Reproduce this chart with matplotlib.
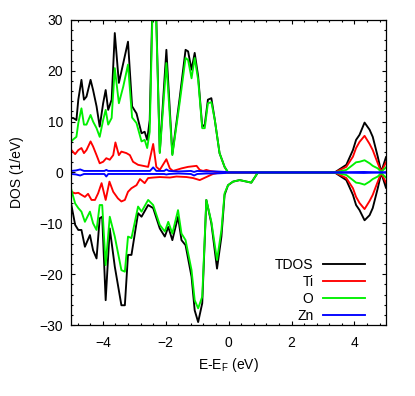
import matplotlib
matplotlib.use("Agg")
import matplotlib.pyplot as plt
from matplotlib.ticker import MultipleLocator

# --- total DOS / O, spin up ---
e_up = [-5.0, -4.94, -4.84, -4.78, -4.68, -4.60, -4.52, -4.39, -4.31, -4.20,
        -4.10, -3.99, -3.91, -3.83, -3.72, -3.62, -3.49, -3.35, -3.20, -3.07,
        -2.93, -2.77, -2.67, -2.59, -2.51, -2.37, -2.19, -1.98, -1.79, -1.56,
        -1.37, -1.29, -1.18, -1.08, -0.97, -0.84, -0.76, -0.66, -0.55, -0.44,
        -0.29, -0.13, -0.02, 3.2, 3.37, 3.74, 3.95, 4.05, 4.16, 4.32,
        4.48, 4.58, 4.74, 4.85, 5.0]
tdos_up = [10.7, 10.7, 10.3, 14.3, 18.2, 14.3, 14.9, 18.2, 16.2, 13.0,
           9.0, 13.6, 16.2, 12.3, 14.3, 27.4, 17.6, 21.5, 25.7, 13.0,
           11.6, 7.7, 8.0, 6.4, 10.3, 47.0, 4.0, 24.1, 3.6, 14.5,
           24.1, 23.8, 20.2, 23.5, 18.9, 9.0, 9.4, 14.3, 14.6, 10.3,
           3.8, 1.1, 0.0, 0.0, 0.0, 1.5, 4.4, 6.4, 7.4, 9.8,
           8.4, 7.0, 3.1, 0.1, 3.0]
o_up = [6.1, 6.5, 7.0, 9.7, 12.6, 9.4, 9.4, 11.3, 10.0, 8.7,
        7.0, 10.3, 12.3, 9.4, 10.7, 20.5, 13.6, 16.9, 21.2, 10.8,
        9.7, 6.1, 6.4, 4.8, 8.0, 45.0, 3.8, 21.5, 3.4, 13.6,
        22.5, 22.1, 18.5, 22.5, 18.2, 8.7, 8.7, 13.6, 13.8, 10.3,
        3.8, 1.1, 0.0, 0.0, 0.0, 0.5, 1.5, 2.0, 2.1, 2.4,
        1.8, 1.3, 0.8, 0.1, 1.0]

# --- total DOS / O, spin down ---
e_dn = [-5.0, -4.88, -4.78, -4.68, -4.57, -4.41, -4.31, -4.20, -4.10, -4.02,
        -3.91, -3.78, -3.62, -3.41, -3.30, -3.20, -3.09, -2.88, -2.77, -2.56,
        -2.40, -2.19, -2.03, -1.92, -1.79, -1.61, -1.50, -1.37, -1.18, -1.08,
        -0.97, -0.84, -0.71, -0.55, -0.37, -0.23, -0.13, -0.02, 0.14, 0.35,
        0.72, 0.93, 3.2, 3.37, 3.74, 3.95, 4.05, 4.16, 4.32, 4.48,
        4.58, 4.74, 4.85, 5.0]
tdos_dn = [-6.4, -10.3, -11.3, -11.3, -14.6, -12.3, -15.3, -16.9, -9.0, -8.7,
           -25.1, -11.0, -18.5, -26.1, -26.1, -16.2, -16.2, -8.0, -8.7, -6.4,
           -7.0, -11.0, -12.6, -10.7, -13.3, -8.7, -13.3, -14.3, -20.5, -27.1,
           -29.4, -25.7, -5.4, -10.0, -18.9, -12.6, -4.4, -2.5, -1.8, -1.5,
           -2.0, 0.0, 0.0, 0.0, -1.5, -4.4, -6.4, -7.4, -9.4, -8.4,
           -7.0, -3.1, -0.1, -3.0]
o_dn = [-3.4, -6.1, -7.0, -7.7, -9.7, -7.7, -10.0, -11.3, -6.4, -6.4,
        -18.2, -8.7, -12.6, -19.2, -19.5, -12.6, -12.9, -6.7, -7.7, -5.4,
        -6.4, -10.3, -11.6, -9.7, -12.0, -7.4, -12.0, -13.3, -19.2, -25.1,
        -26.7, -24.4, -5.4, -9.7, -17.2, -11.3, -4.1, -2.5, -1.8, -1.5,
        -2.0, 0.0, 0.0, 0.0, -0.5, -1.5, -2.0, -2.1, -2.4, -1.8,
        -1.3, -0.8, -0.1, -1.0]

# --- Ti ---
e_ti_up = [-5.0, -4.88, -4.78, -4.68, -4.60, -4.52, -4.39, -4.31, -4.20, -4.10,
           -3.99, -3.89, -3.78, -3.67, -3.60, -3.49, -3.41, -3.25, -3.14, -3.04,
           -2.88, -2.72, -2.56, -2.40, -2.30, -2.19, -1.98, -1.87, -1.77, -1.66,
           -1.50, -1.29, -1.02, -0.92, -0.81, -0.71, -0.60, -0.39, -0.2, 3.2,
           3.37, 3.74, 3.95, 4.05, 4.16, 4.32, 4.48, 4.58, 4.74, 4.85, 5.0]
ti_up = [4.4, 3.6, 4.4, 4.8, 3.8, 4.4, 6.1, 5.1, 3.4, 1.8,
         2.1, 2.8, 2.5, 3.4, 5.9, 3.4, 4.1, 3.8, 3.4, 2.1,
         1.5, 1.3, 1.1, 5.6, 1.1, 0.5, 2.6, 0.8, 0.3, 0.5,
         0.8, 1.1, 1.3, 0.5, 0.3, 0.5, 0.3, 0.1, 0.0, 0.0,
         0.0, 1.1, 3.1, 4.8, 6.0, 7.2, 5.6, 4.4, 1.8, 0.1, 2.0]
e_ti_dn = [-5.0, -4.88, -4.78, -4.68, -4.57, -4.47, -4.36, -4.25, -4.15, -4.04,
           -3.91, -3.79, -3.67, -3.52, -3.41, -3.30, -3.20, -3.09, -2.93, -2.82,
           -2.67, -2.56, -2.40, -2.19, -1.87, -1.66, -1.34, -1.13, -0.92, -0.71,
           -0.50, -0.29, 3.2, 3.37, 3.74, 3.95, 4.05, 4.16, 4.32, 4.48,
           4.58, 4.74, 4.85, 5.0]
ti_dn = [-3.8, -4.1, -4.0, -4.4, -4.8, -4.2, -5.4, -5.4, -4.1, -2.1,
         -5.4, -1.8, -3.8, -5.1, -5.7, -5.4, -3.8, -3.1, -2.5, -1.3,
         -2.1, -1.1, -1.0, -0.9, -1.0, -0.8, -0.9, -1.1, -1.5, -0.9,
         -0.3, 0.0, 0.0, 0.0, -1.1, -3.1, -4.8, -6.0, -7.2, -5.6,
         -4.4, -1.8, -0.1, -2.0]

# --- Zn ---
e_zn = [-5.0, -4.85, -4.72, -4.6, -4.0, -3.95, -3.89, -3.83, -3.0, -2.5,
        -2.40, -2.3, -2.05, -1.98, -1.9, -1.6, -1.2, -1.1, -1.0, -0.7,
        -0.4, -0.1, 0.0, 3.3, 3.7, 4.3, 4.85, 5.0]
zn_up = [0.3, 0.4, 0.6, 0.3, 0.3, 0.3, 0.5, 0.3, 0.3, 0.3,
         1.0, 0.3, 0.3, 0.6, 0.3, 0.2, 0.3, 0.1, 0.3, 0.2,
         0.2, 0.1, 0.0, 0.0, 0.05, 0.1, 0.0, 0.05]
zn_dn = [-0.3, -0.4, -0.6, -0.3, -0.3, -0.3, -0.8, -0.3, -0.3, -0.3,
         -0.3, -0.3, -0.3, -0.4, -0.3, -0.2, -0.3, -0.6, -0.3, -0.2,
         -0.2, -0.1, 0.0, 0.0, -0.05, -0.1, 0.0, -0.05]

plt.rcParams["font.family"] = ["Liberation Sans", "DejaVu Sans"]
plt.rcParams["font.size"] = 10

fig = plt.figure(figsize=(4.15, 3.96), dpi=100)
ax = fig.add_axes([0.172, 0.179, 0.758, 0.771])

LW = 1.35
ax.plot(e_up, tdos_up, color="#000000", lw=LW, label="TDOS")
ax.plot(e_dn, tdos_dn, color="#000000", lw=LW)
ax.plot(e_ti_up, ti_up, color="#ff0000", lw=LW, label="Ti")
ax.plot(e_ti_dn, ti_dn, color="#ff0000", lw=LW)
ax.plot(e_up, o_up, color="#00f000", lw=LW, label="O")
ax.plot(e_dn, o_dn, color="#00f000", lw=LW)
ax.plot(e_zn, zn_up, color="#0000ff", lw=LW, label="Zn")
ax.plot(e_zn, zn_dn, color="#0000ff", lw=LW)

ax.set_xlim(-5, 5)
ax.set_ylim(-30, 30)
ax.xaxis.set_major_locator(MultipleLocator(2))
ax.xaxis.set_minor_locator(MultipleLocator(0.4))
ax.yaxis.set_major_locator(MultipleLocator(10))
ax.yaxis.set_minor_locator(MultipleLocator(2))
ax.tick_params(which="both", direction="in", top=True, right=True, width=0.8)
ax.tick_params(which="major", length=3.2)
ax.tick_params(which="minor", length=1.7)
ax.tick_params(axis="x", pad=8)
ax.tick_params(axis="y", pad=6)
for s in ax.spines.values():
    s.set_linewidth(0.9)

ax.set_xlabel("E-E$_\\mathregular{F}$ (eV)", labelpad=4)
ax.set_ylabel("DOS (1/eV)", labelpad=11)

leg = ax.legend(loc="lower right", bbox_to_anchor=(0.933, 0.008), frameon=False,
                markerfirst=False, handlelength=3.0, handletextpad=0.7,
                labelspacing=0.2, borderpad=0, borderaxespad=0)
for col in leg._legend_handle_box.get_children():
    col.align = "right"

fig.savefig("out.png", dpi=100)
